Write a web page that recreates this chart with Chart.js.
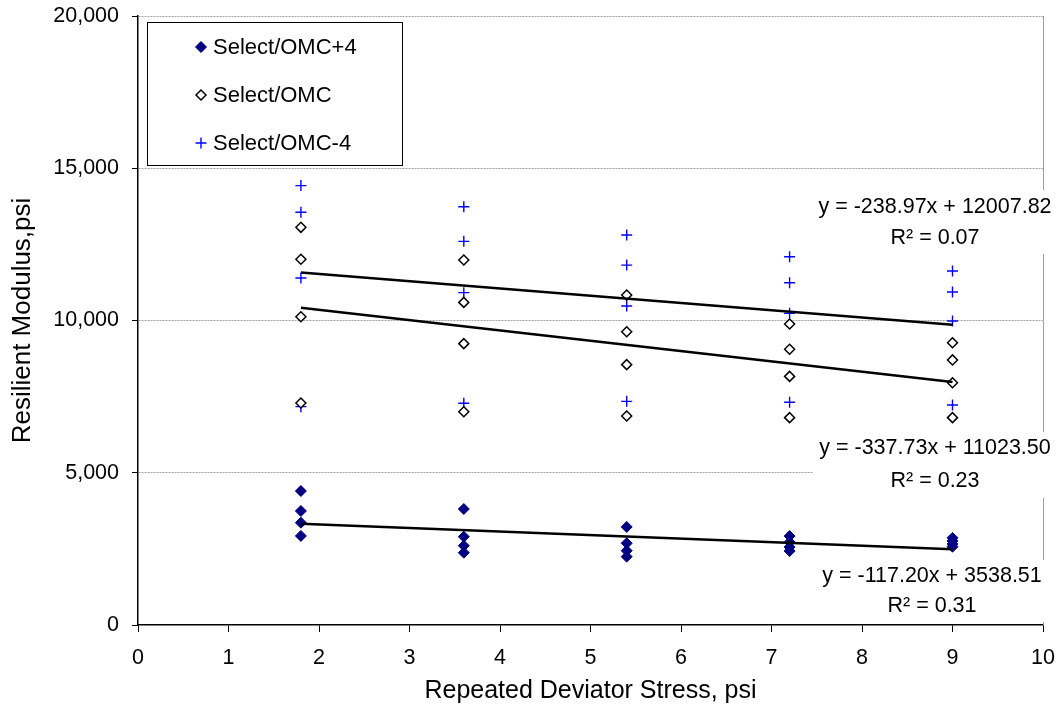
<!DOCTYPE html>
<html>
<head>
<meta charset="utf-8">
<script src="https://cdn.jsdelivr.net/npm/chart.js@4.4.0/dist/chart.umd.min.js"></script>
<style>
  html, body { margin: 0; padding: 0; background: #fff; }
  #wrap { width: 1060px; height: 713px; }
</style>
</head>
<body>
<div id="wrap"><canvas id="chart"></canvas></div>
<script>
const FONT = '"Liberation Sans", Arial, sans-serif';

const stressLevels = [1.8, 3.6, 5.4, 7.2, 9.0];

// four readings per stress level, psi
const omcPlus4 = [
  [4400, 3745, 3360, 2925],
  [3810, 2900, 2605, 2375],
  [3220, 2685, 2440, 2245],
  [2920, 2720, 2560, 2430],
  [2860, 2760, 2660, 2570]
];
const omc = [
  [13060, 12010, 10125, 7290],
  [11985, 10595, 9240, 7005],
  [10835, 9630, 8550, 6865],
  [9885, 9055, 8165, 6810],
  [9270, 8705, 7955, 6810]
];
const omcMinus4 = [
  [14430, 13555, 11395, 7170],
  [13735, 12600, 10915, 7280],
  [12810, 11820, 10475, 7345],
  [12095, 11240, 10235, 7315],
  [11625, 10935, 9985, 7225]
];

const seriesNames = ['Select/OMC+4', 'Select/OMC', 'Select/OMC-4'];

// linear trend lines as printed next to them
const trendSlopes = [-117.20, -337.73, -238.97];
const trendIntercepts = [3538.51, 11023.50, 12007.82];
const trendR2 = ['0.31', '0.23', '0.07'];
const trendRange = [1.8, 9.0];

const xTicks = [0, 1, 2, 3, 4, 5, 6, 7, 8, 9, 10];
const yTicks = [0, 5000, 10000, 15000, 20000];

function toPoints(rows) {
  const out = [];
  rows.forEach((vals, i) => {
    vals.forEach(v => out.push({ x: stressLevels[i], y: v }));
  });
  return out;
}

function trendPoints(i) {
  return trendRange.map(x => ({ x: x, y: trendSlopes[i] * x + trendIntercepts[i] }));
}

const markerStyles = [
  { pointStyle: 'rectRot', pointRadius: 5.5, backgroundColor: '#000080', borderColor: '#000080', pointBorderWidth: 1 },
  { pointStyle: 'rectRot', pointRadius: 5, backgroundColor: '#ffffff', borderColor: '#000000', pointBorderWidth: 1.5 },
  { pointStyle: 'cross', pointRadius: 5.5, backgroundColor: '#0000ff', borderColor: '#0000ff', pointBorderWidth: 1.4 }
];

const datasets = [];
[omcPlus4, omc, omcMinus4].forEach((rows, i) => {
  datasets.push(Object.assign({
    label: seriesNames[i],
    data: toPoints(rows),
    showLine: false,
    order: 1
  }, markerStyles[i]));
});
[0, 1, 2].forEach(i => {
  datasets.push({
    label: 'trend ' + seriesNames[i],
    data: trendPoints(i),
    showLine: true,
    borderColor: '#000000',
    borderWidth: 2.5,
    pointRadius: 0,
    order: 0
  });
});

// equation boxes: centre x, middles of the two rows, white backing box
const eqBoxes = [
  { series: 2, cx: 935, y1: 207, y2: 238, box: [813, 190, 247, 64] },
  { series: 1, cx: 935, y1: 448, y2: 481, box: [813, 432, 247, 66] },
  { series: 0, cx: 932, y1: 576, y2: 606, box: [815, 560, 245, 62] }
];

const legendBox = { x: 147, y: 22, w: 255, h: 143, markerX: 201, textX: 213, rows: [47, 95, 143] };

function drawMarker(ctx, style, x, y) {
  ctx.save();
  ctx.strokeStyle = style.borderColor;
  ctx.fillStyle = style.backgroundColor;
  ctx.lineWidth = style.pointBorderWidth;
  const r = style.pointRadius;
  ctx.beginPath();
  if (style.pointStyle === 'cross') {
    ctx.moveTo(x - r, y); ctx.lineTo(x + r, y);
    ctx.moveTo(x, y - r); ctx.lineTo(x, y + r);
    ctx.stroke();
  } else {
    ctx.moveTo(x - r, y); ctx.lineTo(x, y - r);
    ctx.lineTo(x + r, y); ctx.lineTo(x, y + r);
    ctx.closePath();
    ctx.fill();
    ctx.stroke();
  }
  ctx.restore();
}

const decorations = {
  id: 'decorations',
  beforeDatasetsDraw(chart) {
    const { ctx, chartArea } = chart;
    // right edge of the plot area
    ctx.save();
    ctx.strokeStyle = '#a0a0a0';
    ctx.lineWidth = 1;
    ctx.beginPath();
    ctx.moveTo(chartArea.right + 0.5, chartArea.top);
    ctx.lineTo(chartArea.right + 0.5, chartArea.bottom);
    ctx.stroke();
    ctx.restore();
  },
  afterDraw(chart) {
    const { ctx } = chart;
    ctx.save();
    ctx.textBaseline = 'middle';

    ctx.font = '21.5px ' + FONT;
    eqBoxes.forEach(b => {
      const i = b.series;
      ctx.fillStyle = '#ffffff';
      ctx.fillRect(b.box[0], b.box[1], b.box[2], b.box[3]);
      ctx.fillStyle = '#000000';
      ctx.textAlign = 'center';
      const eq = 'y = ' + trendSlopes[i].toFixed(2) + 'x + ' + trendIntercepts[i].toFixed(2);
      ctx.fillText(eq, b.cx, b.y1);
      ctx.fillText('R\u00b2 = ' + trendR2[i], b.cx, b.y2);
    });

    // legend
    const L = legendBox;
    ctx.fillStyle = '#ffffff';
    ctx.fillRect(L.x, L.y, L.w, L.h);
    ctx.strokeStyle = '#000000';
    ctx.lineWidth = 1;
    ctx.strokeRect(L.x + 0.5, L.y + 0.5, L.w, L.h);
    ctx.textAlign = 'left';
    ctx.font = '22px ' + FONT;
    seriesNames.forEach((name, i) => {
      drawMarker(ctx, markerStyles[i], L.markerX, L.rows[i]);
      ctx.fillStyle = '#000000';
      ctx.fillText(name, L.textX, L.rows[i] + 1);
    });
    ctx.restore();
  }
};

new Chart(document.getElementById('chart'), {
  type: 'scatter',
  data: { datasets: datasets },
  plugins: [decorations],
  options: {
    responsive: true,
    maintainAspectRatio: false,
    animation: false,
    layout: { padding: { left: 0, right: 17, top: 16, bottom: 0 } },
    plugins: { legend: { display: false }, tooltip: { enabled: false } },
    scales: {
      x: {
        type: 'linear',
        min: 0,
        max: 10,
        afterBuildTicks: s => { s.ticks = xTicks.map(v => ({ value: v })); },
        afterFit: s => { s.height = 88; s.paddingLeft = 0; s.paddingRight = 0; },
        ticks: { color: '#000', font: { family: FONT, size: 21.5 }, padding: 13, maxRotation: 0 },
        grid: { drawOnChartArea: false, tickLength: 7, tickColor: '#000', tickWidth: 1 },
        border: { color: '#000', width: 1.5 },
        title: {
          display: true,
          text: 'Repeated Deviator Stress, psi',
          color: '#000',
          font: { family: FONT, size: 25 },
          padding: { top: 4, bottom: 7 }
        }
      },
      y: {
        type: 'linear',
        min: 0,
        max: 20000,
        afterBuildTicks: s => { s.ticks = yTicks.map(v => ({ value: v })); },
        afterFit: s => { s.width = 138; s.paddingTop = 0; s.paddingBottom = 0; },
        ticks: {
          color: '#000',
          font: { family: FONT, size: 21.5 },
          padding: 13,
          callback: v => v.toLocaleString('en-US')
        },
        grid: {
          color: c => (c.tick && c.tick.value === 0) ? 'rgba(0,0,0,0)' : '#a0a0a0',
          lineWidth: 1,
          tickLength: 6,
          tickColor: '#000',
          tickBorderDash: []
        },
        border: { color: '#000', width: 1.5, dash: [2, 1] },
        title: {
          display: true,
          text: 'Resilient Modulus,psi',
          color: '#000',
          font: { family: FONT, size: 26 },
          padding: { top: 7, bottom: 4 }
        }
      }
    }
  }
});
</script>
</body>
</html>
